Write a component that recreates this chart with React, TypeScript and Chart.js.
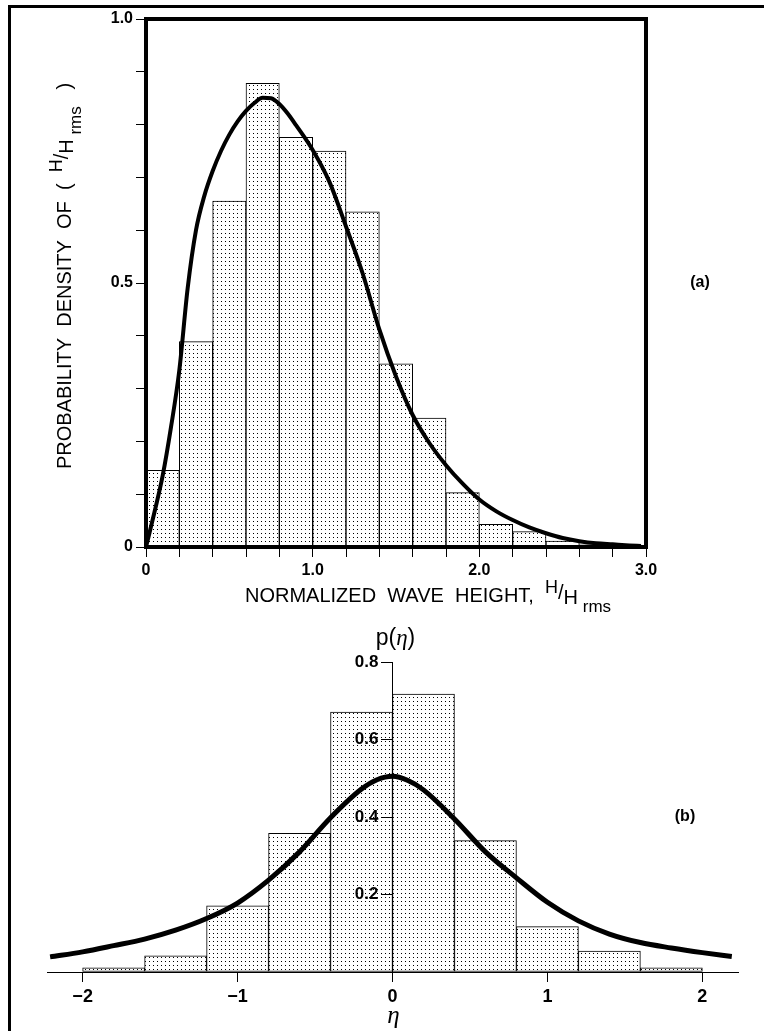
import React, { useEffect, useRef } from 'react';
import { Chart, registerables } from 'chart.js';

Chart.register(...registerables);

// ---------- (a) normalized wave height ----------
const waveBinStart = [0, 0.2, 0.4, 0.6, 0.8, 1.0, 1.2, 1.4, 1.6, 1.8, 2.0, 2.2, 2.4, 2.6];
const waveBinDensity = [0.145, 0.389, 0.655, 0.878, 0.776, 0.75, 0.635, 0.347, 0.244, 0.103, 0.043, 0.029, 0.011, 0.004];
const waveBinWidth = 0.2;
const waveCurveH = [0, 0.05, 0.1, 0.15, 0.2, 0.25, 0.3, 0.35, 0.4, 0.45, 0.5, 0.55, 0.6, 0.65, 0.7, 0.75, 0.8, 0.85, 0.9, 1.0, 1.1, 1.2, 1.3, 1.4, 1.5, 1.6, 1.7, 1.8, 1.9, 2.0, 2.1, 2.2, 2.3, 2.4, 2.5, 2.6, 2.7, 2.8, 2.9, 2.97];
const waveCurveP = [0, 0.065, 0.135, 0.227, 0.335, 0.49, 0.6, 0.665, 0.712, 0.75, 0.781, 0.806, 0.826, 0.841, 0.851, 0.85, 0.839, 0.821, 0.799, 0.752, 0.692, 0.607, 0.518, 0.412, 0.323, 0.25, 0.197, 0.155, 0.12, 0.09, 0.068, 0.051, 0.037, 0.026, 0.017, 0.011, 0.007, 0.005, 0.003, 0.002];
const waveXMinorStep = 0.2;
const waveXMajor = [0, 1, 2, 3];
const waveXMajorLabels = ['0', '1.0', '2.0', '3.0'];
const waveYMinorStep = 0.1;
const waveYMajor = [0, 0.5, 1];
const waveYMajorLabels = ['0', '0.5', '1.0'];

// ---------- (b) surface elevation ----------
const etaBinStart = [-2.0, -1.6, -1.2, -0.8, -0.4, 0, 0.4, 0.8, 1.2, 1.6];
const etaBinDensity = [0.011, 0.042, 0.171, 0.358, 0.671, 0.717, 0.339, 0.117, 0.054, 0.011];
const etaBinWidth = 0.4;
const etaCurveX = [-2.21, -2.0, -1.8, -1.6, -1.4, -1.2, -1.0, -0.8, -0.6, -0.4, -0.2, -0.1, 0, 0.1, 0.2, 0.4, 0.6, 0.8, 1.0, 1.2, 1.4, 1.6, 1.8, 2.0, 2.19];
const etaCurveP = [0.039, 0.052, 0.068, 0.085, 0.108, 0.138, 0.178, 0.237, 0.31, 0.398, 0.472, 0.496, 0.505, 0.494, 0.47, 0.395, 0.31, 0.243, 0.18, 0.132, 0.098, 0.076, 0.062, 0.05, 0.04];
const etaXTicks = [-2, -1, 0, 1, 2];
const etaXTickLabels = ['\u22122', '\u22121', '0', '1', '2'];
const etaYTicks = [0, 0.2, 0.4, 0.6, 0.8];
const etaYTickLabels = ['', '0.2', '0.4', '0.6', '0.8'];

const FAMILY = '"Liberation Sans", Arial, sans-serif';

type Seg = { t: string; size: number; dy: number; style?: string; family?: string };

function segsWidth(ctx: CanvasRenderingContext2D, segs: Seg[]) {
  let w = 0;
  for (const s of segs) {
    ctx.font = `${s.style ?? ''} ${s.size}px ${s.family ?? FAMILY}`;
    w += ctx.measureText(s.t).width;
  }
  return w;
}

function drawSegs(ctx: CanvasRenderingContext2D, segs: Seg[], x: number, y: number) {
  let cx = x;
  for (const s of segs) {
    ctx.font = `${s.style ?? ''} ${s.size}px ${s.family ?? FAMILY}`;
    ctx.fillText(s.t, cx, y + s.dy);
    cx += ctx.measureText(s.t).width;
  }
}

function dotPattern(ctx: CanvasRenderingContext2D) {
  const c = document.createElement('canvas');
  c.width = 4;
  c.height = 4;
  const g = c.getContext('2d')!;
  g.fillStyle = '#fff';
  g.fillRect(0, 0, 4, 4);
  g.fillStyle = '#000';
  g.fillRect(1, 1, 1, 1);
  return ctx.createPattern(c, 'repeat')!;
}

function labelFor(v: number, vals: number[], labels: string[]) {
  const i = vals.findIndex((m) => Math.abs(m - v) < 1e-6);
  return i >= 0 ? labels[i] : '';
}

const framePlugin = {
  id: 'frame',
  afterDraw(chart: any) {
    const { ctx, chartArea: a } = chart;
    ctx.save();
    ctx.strokeStyle = '#000';
    ctx.lineWidth = 4;
    ctx.strokeRect(a.left, a.top, a.right - a.left, a.bottom - a.top);
    ctx.restore();
  },
};

const topTextPlugin = {
  id: 'topText',
  afterDraw(chart: any) {
    const { ctx, chartArea: a } = chart;
    ctx.save();
    ctx.fillStyle = '#000';
    ctx.textBaseline = 'alphabetic';
    ctx.textAlign = 'left';
    // x-axis title
    const xt: Seg[] = [
      { t: 'NORMALIZED  WAVE  HEIGHT,  ', size: 20, dy: 0 },
      { t: 'H', size: 18, dy: -9 },
      { t: '/', size: 20, dy: -3 },
      { t: 'H', size: 20, dy: 2 },
      { t: ' rms', size: 17, dy: 10 },
    ];
    drawSegs(ctx, xt, 245, 602);
    // y-axis title (rotated)
    const yt: Seg[] = [
      { t: 'PROBABILITY  DENSITY  OF  (  ', size: 20, dy: 0 },
      { t: 'H', size: 18, dy: -9 },
      { t: '/', size: 20, dy: -3 },
      { t: 'H', size: 20, dy: 2 },
      { t: ' rms', size: 17, dy: 10 },
      { t: '   )', size: 20, dy: 0 },
    ];
    const w = segsWidth(ctx, yt);
    ctx.save();
    ctx.translate(71, (a.top + a.bottom) / 2 + w / 2 - 7);
    ctx.rotate(-Math.PI / 2);
    drawSegs(ctx, yt, 0, 0);
    ctx.restore();
    // panel label
    ctx.font = `bold 16px ${FAMILY}`;
    ctx.textAlign = 'center';
    ctx.textBaseline = 'middle';
    ctx.fillText('(a)', 700, (a.top + a.bottom) / 2);
    ctx.restore();
  },
};

const bottomTextPlugin = {
  id: 'bottomText',
  afterDraw(chart: any) {
    const { ctx } = chart;
    const x0 = chart.scales.x.getPixelForValue(0);
    ctx.save();
    ctx.fillStyle = '#000';
    ctx.textBaseline = 'alphabetic';
    ctx.textAlign = 'left';
    const pt: Seg[] = [
      { t: 'p(', size: 23, dy: 0 },
      { t: '\u03B7', size: 23, dy: 0, style: 'italic', family: '"Liberation Serif", serif' },
      { t: ')', size: 23, dy: 0 },
    ];
    const pw = segsWidth(ctx, pt);
    drawSegs(ctx, pt, x0 - pw / 2 + 3, 25);
    ctx.font = `italic 25px "Liberation Serif", serif`;
    ctx.textAlign = 'center';
    ctx.fillText('\u03B7', x0 + 1, 403);
    ctx.font = `bold 16px ${FAMILY}`;
    ctx.textBaseline = 'middle';
    ctx.fillText('(b)', 685, chart.scales.y.getPixelForValue(0.4));
    ctx.restore();
  },
};

export default function App() {
  const topRef = useRef<HTMLCanvasElement>(null);
  const botRef = useRef<HTMLCanvasElement>(null);

  useEffect(() => {
    const topCanvas = topRef.current!;
    const botCanvas = botRef.current!;
    const pat1 = dotPattern(topCanvas.getContext('2d')!);
    const pat2 = dotPattern(botCanvas.getContext('2d')!);

    const tickFont = { family: FAMILY, size: 16, weight: 'bold' as const };

    const top = new Chart(topCanvas, {
      type: 'bar',
      data: {
        datasets: [
          {
            type: 'line',
            data: waveCurveH.map((h, i) => ({ x: h, y: waveCurveP[i] })),
            borderColor: '#000',
            borderWidth: 4,
            pointRadius: 0,
            cubicInterpolationMode: 'monotone',
            order: 0,
          } as any,
          {
            type: 'bar',
            data: waveBinStart.map((s, i) => ({ x: s + waveBinWidth / 2, y: waveBinDensity[i] })),
            backgroundColor: pat1,
            borderColor: '#000',
            borderWidth: 1,
            borderSkipped: false,
            barPercentage: 1,
            categoryPercentage: 1,
            order: 1,
          } as any,
        ],
      },
      options: {
        animation: false,
        responsive: false,
        events: [],
        layout: { padding: { left: 0, top: 19, right: 118, bottom: 0 } },
        plugins: { legend: { display: false }, tooltip: { enabled: false } },
        scales: {
          x: {
            type: 'linear',
            min: 0,
            max: 3,
            offset: false,
            afterBuildTicks: (s: any) => {
              const n = Math.round((3 - 0) / waveXMinorStep);
              s.ticks = Array.from({ length: n + 1 }, (_, i) => ({ value: i * waveXMinorStep }));
            },
            afterFit: (s: any) => {
              s.height = 73;
            },
            grid: { display: true, drawOnChartArea: false, drawTicks: true, tickLength: 10, color: '#000', lineWidth: 1, offset: false },
            border: { display: false },
            ticks: {
              color: '#000',
              font: tickFont,
              padding: 4,
              maxRotation: 0,
              autoSkip: false,
              callback: (v: any) => labelFor(Number(v), waveXMajor, waveXMajorLabels),
            },
          } as any,
          y: {
            type: 'linear',
            min: 0,
            max: 1,
            afterBuildTicks: (s: any) => {
              const n = Math.round(1 / waveYMinorStep);
              s.ticks = Array.from({ length: n + 1 }, (_, i) => ({ value: i * waveYMinorStep }));
            },
            afterFit: (s: any) => {
              s.width = 146;
            },
            grid: { display: true, drawOnChartArea: false, drawTicks: true, tickLength: 10, color: '#000', lineWidth: 1 },
            border: { display: false },
            ticks: {
              color: '#000',
              font: tickFont,
              padding: 3,
              autoSkip: false,
              callback: (v: any) => labelFor(Number(v), waveYMajor, waveYMajorLabels),
            },
          } as any,
        },
      },
      plugins: [framePlugin, topTextPlugin],
    });

    const bot = new Chart(botCanvas, {
      type: 'bar',
      data: {
        datasets: [
          {
            type: 'line',
            data: etaCurveX.map((e, i) => ({ x: e, y: etaCurveP[i] })),
            borderColor: '#000',
            borderWidth: 5,
            pointRadius: 0,
            cubicInterpolationMode: 'monotone',
            order: 0,
            clip: false,
          } as any,
          {
            type: 'bar',
            data: etaBinStart.map((s, i) => ({ x: s + etaBinWidth / 2, y: etaBinDensity[i] })),
            backgroundColor: pat2,
            borderColor: '#000',
            borderWidth: 1,
            borderSkipped: false,
            barPercentage: 1,
            categoryPercentage: 1,
            order: 1,
          } as any,
        ],
      },
      options: {
        animation: false,
        responsive: false,
        events: [],
        layout: { padding: { left: 47, top: 42, right: 26, bottom: 0 } },
        plugins: { legend: { display: false }, tooltip: { enabled: false } },
        scales: {
          x: {
            type: 'linear',
            min: -2.23,
            max: 2.23,
            offset: false,
            afterBuildTicks: (s: any) => {
              s.ticks = etaXTicks.map((v) => ({ value: v }));
            },
            afterFit: (s: any) => {
              s.height = 59;
            },
            grid: { display: true, drawOnChartArea: false, drawTicks: true, tickLength: 10, color: '#000', lineWidth: 1, offset: false },
            border: { display: true, color: '#000', width: 1 },
            ticks: {
              color: '#000',
              font: { family: FAMILY, size: 18, weight: 'bold' },
              padding: 4,
              maxRotation: 0,
              autoSkip: false,
              callback: (v: any) => labelFor(Number(v), etaXTicks, etaXTickLabels),
            },
          } as any,
          y: {
            type: 'linear',
            position: { x: 0 },
            min: 0,
            max: 0.8,
            afterBuildTicks: (s: any) => {
              s.ticks = etaYTicks.map((v) => ({ value: v }));
            },
            grid: { display: true, drawOnChartArea: false, drawTicks: true, tickLength: 11, color: '#000', lineWidth: 1, z: 1 },
            border: { display: true, color: '#000', width: 1, z: 1 },
            ticks: {
              color: '#000',
              font: { family: FAMILY, size: 17, weight: 'bold' },
              padding: 2,
              z: 1,
              autoSkip: false,
              // labels of a value-anchored axis are placed at the axis line; trailing spaces keep them left of the tick
              callback: (v: any) => {
                const l = labelFor(Number(v), etaYTicks, etaYTickLabels);
                return l ? l + '   ' : '';
              },
            },
          } as any,
        },
      },
      plugins: [bottomTextPlugin],
    });

    return () => {
      top.destroy();
      bot.destroy();
    };
  }, []);

  return (
    <div style={{ position: 'absolute', left: 0, top: 0, width: 764, height: 1031, overflow: 'hidden', background: '#fff' }}>
      <div
        style={{
          position: 'absolute',
          left: 8,
          top: 5,
          width: 900,
          height: 1200,
          borderLeft: '3px solid #000',
          borderTop: '3px solid #000',
        }}
      />
      <canvas ref={topRef} width={764} height={620} style={{ position: 'absolute', left: 0, top: 0, width: 764, height: 620 }} />
      <canvas ref={botRef} width={764} height={411} style={{ position: 'absolute', left: 0, top: 620, width: 764, height: 411 }} />
    </div>
  );
}
